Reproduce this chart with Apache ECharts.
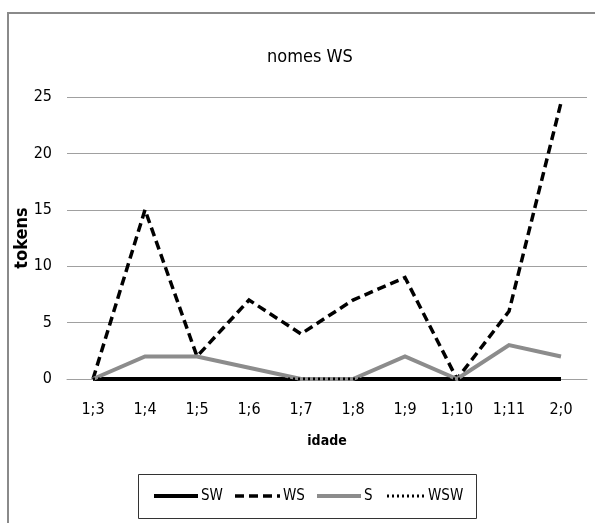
<!DOCTYPE html>
<html>
<head>
<meta charset="utf-8">
<script src="https://cdn.jsdelivr.net/npm/echarts@6/dist/echarts.min.js"></script>
<style>
  html, body { margin: 0; padding: 0; background: #fff; }
  #chart { width: 595px; height: 523px; }
</style>
</head>
<body>
<div id="chart"></div>
<script>
// Age points (years;months)
const categories = ['1;3', '1;4', '1;5', '1;6', '1;7', '1;8', '1;9', '1;10', '1;11', '2;0'];
// Token counts per stress pattern
const swValues  = [0, 0, 0, 0, 0, 0, 0, 0, 0, 0];
const wsValues  = [0, 15, 2, 7, 4, 7, 9, 0, 6, 24.5];
const sValues   = [0, 2, 2, 1, 0, 0, 2, 0, 3, 2];
const wswValues = [0, 0, 0, 0, 0, 0, 0, 0, 0, 0];
const seriesNames = ['SW', 'WS', 'S', 'WSW'];
const yTicks = { min: 0, max: 25, step: 5 };

const FONT = '"Liberation Sans Narrow", "DejaVu Sans Condensed", "Open Sans", sans-serif';

// Line looks shared by the series and the hand-drawn legend keys
const styles = {
  SW:  { color: '#000000', width: 4, type: 'solid' },
  WS:  { color: '#000000', width: 3.5, type: [9, 5] },
  S:   { color: '#8c8c8c', width: 4, type: 'solid' },
  WSW: { color: '#000000', width: 3, type: [2, 3] }
};

const chart = echarts.init(document.getElementById('chart'), null, { renderer: 'canvas' });

function lineSeries(name, data, z) {
  const st = styles[name];
  return {
    name: name,
    type: 'line',
    data: data,
    symbol: 'none',
    z: z,
    lineStyle: { color: st.color, width: st.width, type: st.type, cap: 'butt', join: 'miter' },
    itemStyle: { color: st.color },
    emphasis: { disabled: true },
    animation: false
  };
}

// Legend box with line keys
const legendBox = { x: 138, y: 474, w: 338, h: 44 };
const legendKeys = [
  { name: 'SW',  x0: 154, x1: 198, tx: 201 },
  { name: 'WS',  x0: 235, x1: 280, tx: 283 },
  { name: 'S',   x0: 317, x1: 361, tx: 364 },
  { name: 'WSW', x0: 387, x1: 425, tx: 428 }
];
const legendY = 496;
const legendGraphics = [{
  type: 'rect',
  shape: { x: legendBox.x + 0.5, y: legendBox.y + 0.5, width: legendBox.w, height: legendBox.h },
  style: { fill: '#fff', stroke: '#333', lineWidth: 1 },
  silent: true
}];
legendKeys.forEach(function (k) {
  const st = styles[k.name];
  legendGraphics.push({
    type: 'line',
    shape: { x1: k.x0, y1: legendY, x2: k.x1, y2: legendY },
    style: { stroke: st.color, lineWidth: st.width, lineDash: st.type === 'solid' ? null : st.type },
    silent: true
  });
  legendGraphics.push({
    type: 'text',
    x: k.tx,
    y: legendY,
    style: { text: k.name, font: '15px ' + FONT, fill: '#000', textVerticalAlign: 'middle', verticalAlign: 'middle' },
    silent: true
  });
});

chart.setOption({
  animation: false,
  backgroundColor: '#fff',
  title: {
    text: 'nomes WS',
    left: 262,
    top: 43,
    textStyle: { fontFamily: FONT, fontSize: 18, fontWeight: 'normal', color: '#000' }
  },
  graphic: [{
    type: 'rect',
    shape: { x: 8, y: 13, width: 640, height: 560 },
    style: { fill: 'none', stroke: '#8a8a8a', lineWidth: 2 },
    silent: true,
    z: -1
  }].concat(legendGraphics),
  grid: { left: 67, right: 8, top: 97, bottom: 144, containLabel: false, outerBoundsMode: 'none' },
  xAxis: {
    type: 'category',
    data: categories,
    boundaryGap: true,
    name: 'idade',
    nameLocation: 'middle',
    nameGap: 55,
    nameMoveOverlap: false,
    nameTextStyle: { fontFamily: FONT, fontSize: 14, fontWeight: 'bold', color: '#000' },
    axisLine: { show: true, lineStyle: { color: '#a0a0a0', width: 1 } },
    axisTick: { show: false },
    axisLabel: { fontFamily: FONT, fontSize: 16, color: '#000', margin: 23 }
  },
  yAxis: {
    type: 'value',
    min: yTicks.min,
    max: yTicks.max,
    interval: yTicks.step,
    name: 'tokens',
    nameLocation: 'middle',
    nameGap: 36,
    nameMoveOverlap: false,
    nameRotate: 90,
    nameTextStyle: { fontFamily: FONT, fontSize: 18, fontWeight: 'bold', color: '#000' },
    axisLine: { show: false },
    axisTick: { show: false },
    axisLabel: { fontFamily: FONT, fontSize: 16, color: '#000', margin: 15 },
    splitLine: { show: true, lineStyle: { color: '#a0a0a0', width: 1 } }
  },
  legend: { show: false, data: seriesNames },
  series: [
    lineSeries('SW', swValues, 2),
    lineSeries('WS', wsValues, 3),
    lineSeries('S', sValues, 4),
    lineSeries('WSW', wswValues, 5)
  ]
});
</script>
</body>
</html>
